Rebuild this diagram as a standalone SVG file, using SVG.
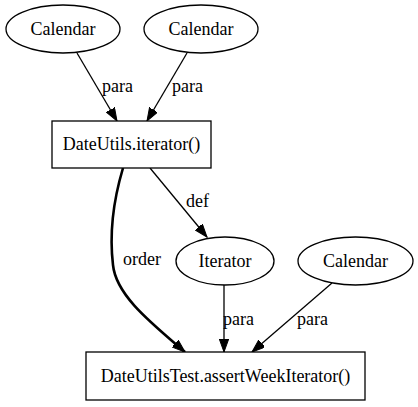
<svg xmlns="http://www.w3.org/2000/svg" width="418" height="407" viewBox="0 0 418 407">
<style>
.n{fill:#fff;stroke:#000;stroke-width:1.3}
text{font-family:'Liberation Serif','Times New Roman',Times,serif;font-size:18px;fill:#000}
.m{text-anchor:middle}
.e{fill:none;stroke:#000;stroke-width:1.3}
.b{stroke-width:2.6}
</style>
<defs>
<marker id="a" markerUnits="userSpaceOnUse" markerWidth="14" markerHeight="10" refX="13" refY="4.7" orient="auto" viewBox="0 0 14 10">
<path d="M0,0 L13,4.7 L0,9.4 z" fill="#000" stroke="#000"/>
</marker>
</defs>
<rect width="418" height="407" fill="#fff"/>
<g id="edges" font-family="Liberation Serif, serif">
<path class="e" d="M77,53 L117,121" marker-end="url(#a)"/>
<text x="102" y="92">para</text>
<path class="e" d="M187,53 L147,121" marker-end="url(#a)"/>
<text x="172" y="92">para</text>
<path class="e b" d="M123,168 C112,205 110,240 113,265 C116,295 150,322 185,352" marker-end="url(#a)"/>
<text x="123" y="265">order</text>
<path class="e" d="M150,168 L207,237" marker-end="url(#a)"/>
<text x="186" y="207">def</text>
<path class="e" d="M224,285 L224,352" marker-end="url(#a)"/>
<text x="223" y="325">para</text>
<path class="e" d="M332,283 L252,352" marker-end="url(#a)"/>
<text x="297" y="325">para</text>
</g>
<g id="cal1"><ellipse class="n" cx="63" cy="29" rx="57" ry="24"/><text class="m" x="63" y="35">Calendar</text></g>
<g id="cal2"><ellipse class="n" cx="201" cy="29" rx="57" ry="24"/><text class="m" x="201" y="35">Calendar</text></g>
<g id="iter"><rect class="n" x="52" y="121" width="159" height="47"/><text class="m" x="131.5" y="150">DateUtils.iterator()</text></g>
<g id="iterator"><ellipse class="n" cx="225" cy="261" rx="49" ry="24"/><text class="m" x="225" y="267">Iterator</text></g>
<g id="cal3"><ellipse class="n" cx="355.5" cy="261" rx="57.5" ry="24"/><text class="m" x="355.5" y="267">Calendar</text></g>
<g id="test"><rect class="n" x="86" y="352" width="279" height="48"/><text class="m" x="225.5" y="382">DateUtilsTest.assertWeekIterator()</text></g>
</svg>
